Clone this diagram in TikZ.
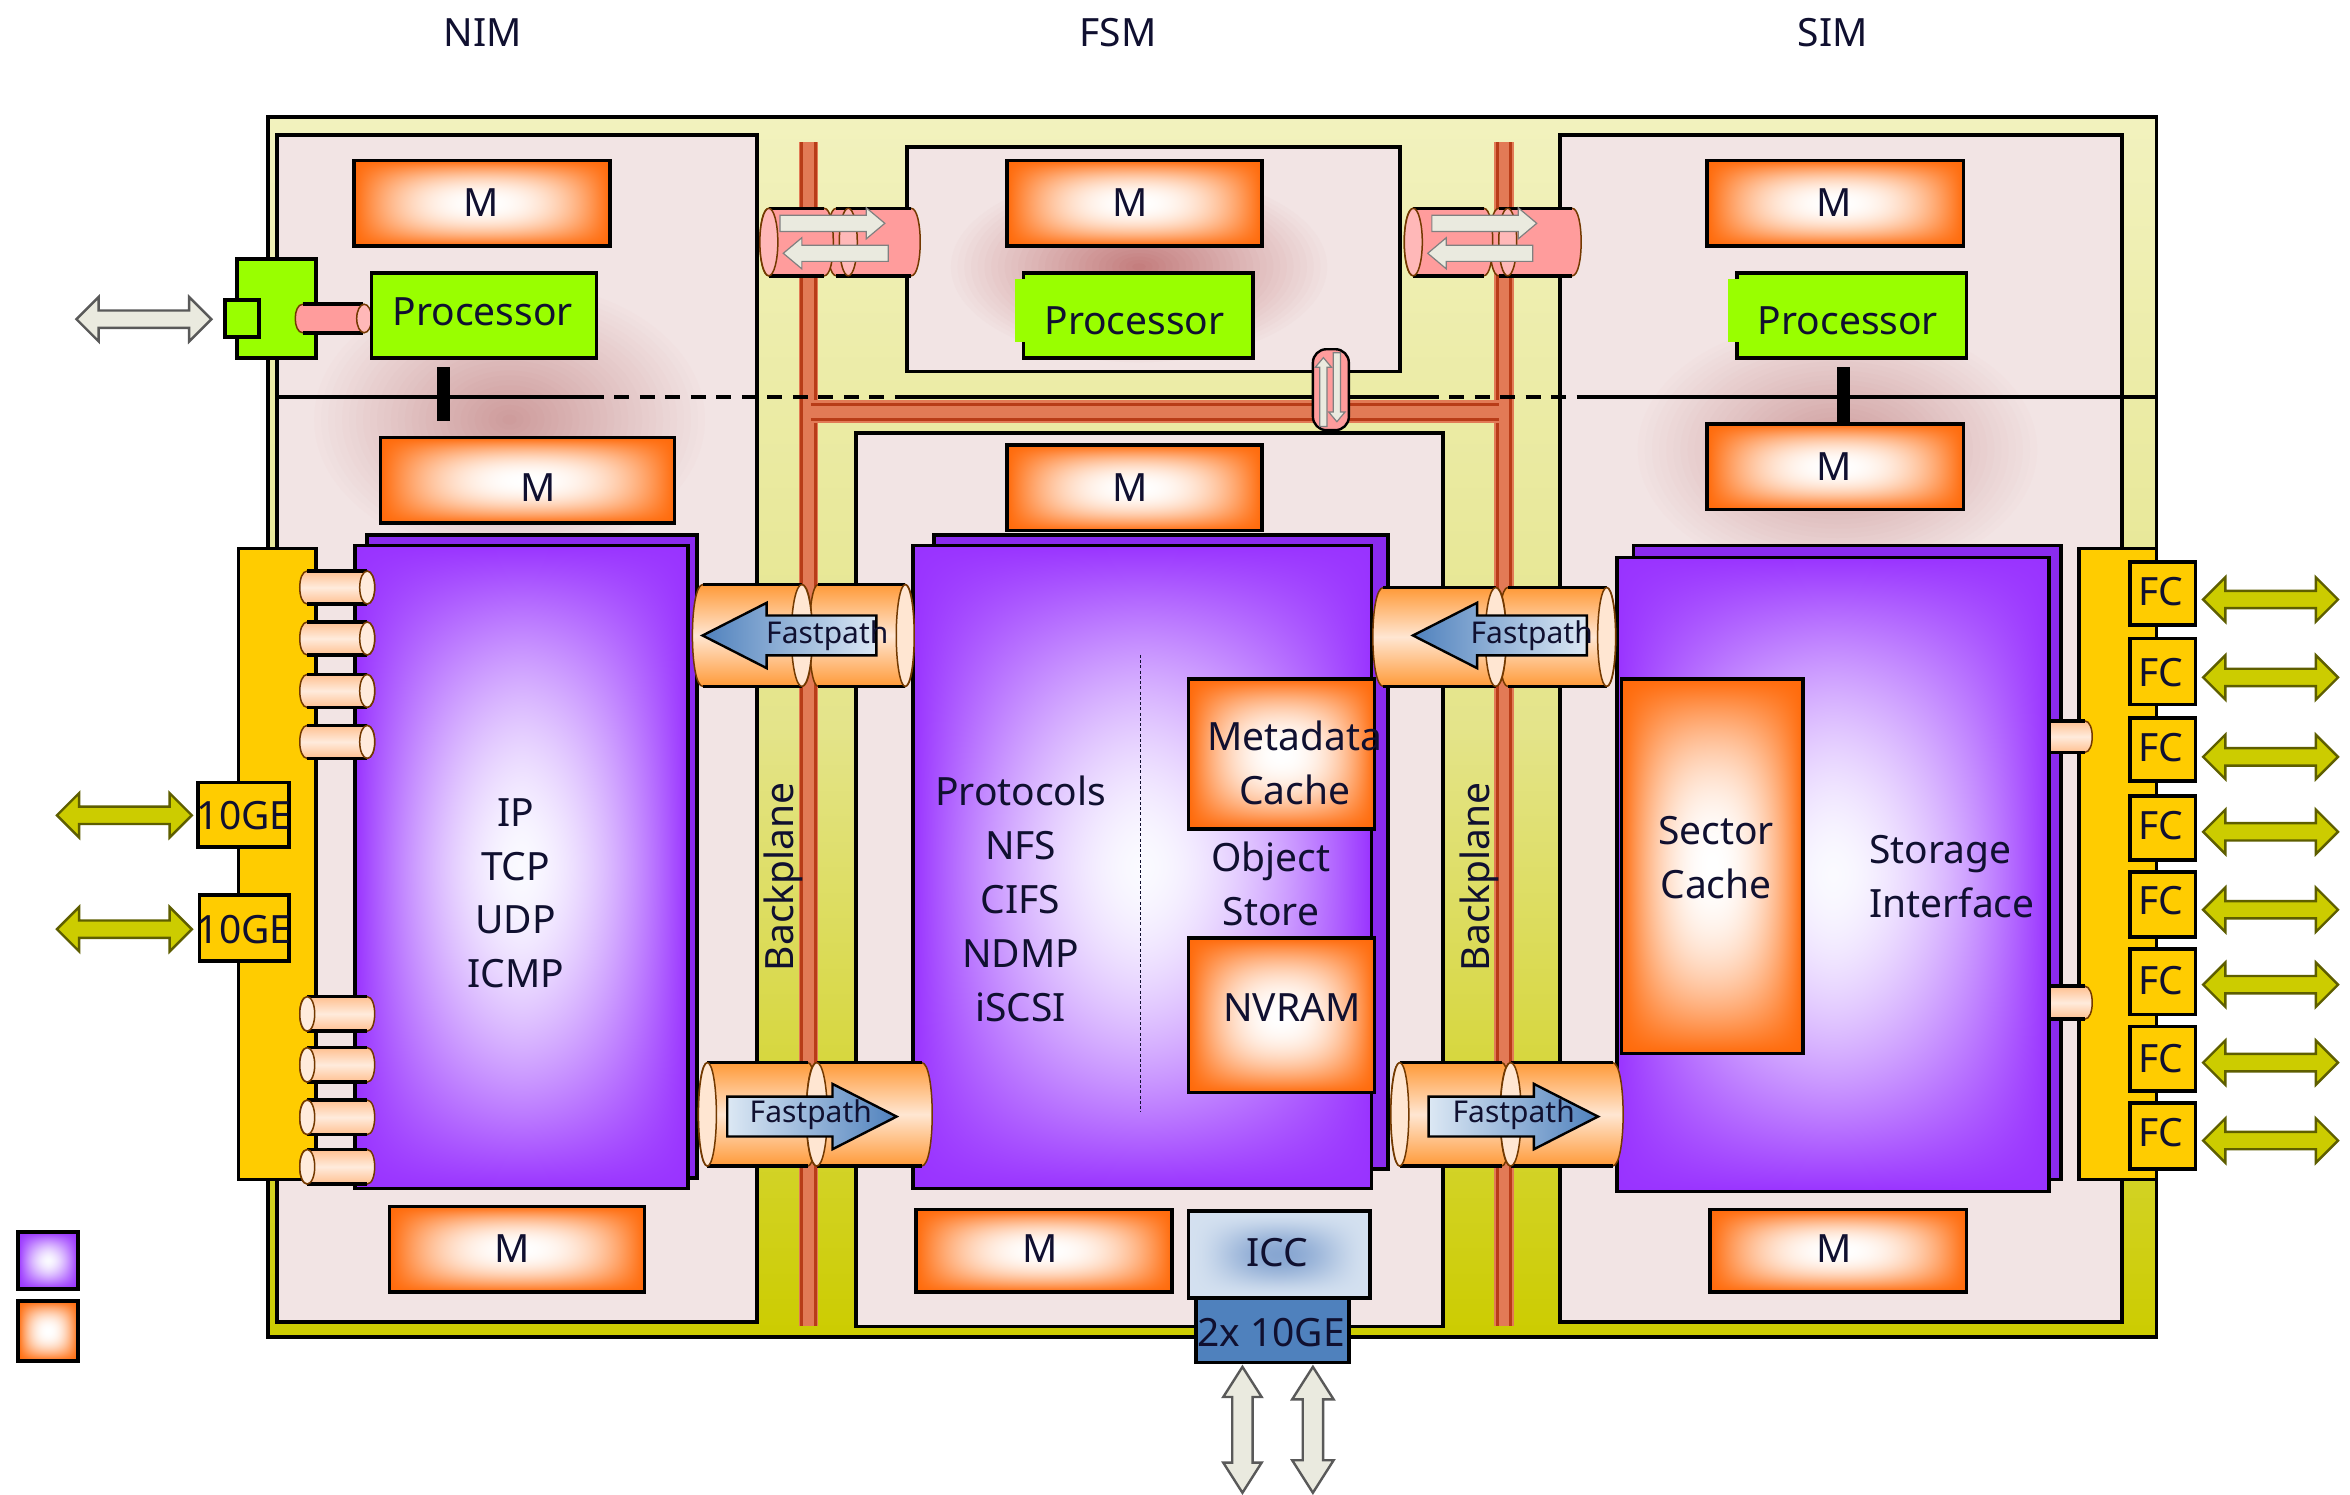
\documentclass[tikz,border=0pt]{standalone}
\usepackage{fontspec}
\setmainfont{Noto Sans}
\usetikzlibrary{calc,shapes.arrows,shapes.geometric}
\definecolor{cboard}{HTML}{F2E4E4}
\definecolor{cblob}{HTML}{CE9C9C}
\definecolor{cblobb}{HTML}{C47E7E}
\definecolor{cpurpleb}{HTML}{8A2BEE}
\definecolor{cgreen}{HTML}{99FF00}
\definecolor{cyellow}{HTML}{FFCC00}
\definecolor{colive}{HTML}{CCCC00}
\definecolor{cpale}{HTML}{F2F2BE}
\definecolor{cmidy}{HTML}{E4E48A}
\definecolor{ccream}{HTML}{EAEADF}
\definecolor{cfp}{HTML}{FF9A38}
\definecolor{cfpi}{HTML}{FFE6D2}
\definecolor{cpeach}{HTML}{FFC090}
\definecolor{cpeachi}{HTML}{FFEBDC}
\definecolor{cpink}{HTML}{FF9C9C}
\definecolor{cpinki}{HTML}{FFB8B8}
\definecolor{cblue}{HTML}{4F81BD}
\definecolor{cbluep}{HTML}{DCE8F4}
\definecolor{crail}{HTML}{B83C18}
\definecolor{crailp}{HTML}{E27A56}
\definecolor{ctext}{HTML}{101030}
\definecolor{colived}{HTML}{5E5E00}
\pgfdeclarefunctionalshading{orangepad}{\pgfpointorigin}{\pgfpoint{100bp}{100bp}}{}{
  50 sub 25 div abs 2.2 exp neg 1 add exch 50 sub 25 div abs 2.2 exp neg 1 add mul
  1 exch dup 0.584 mul 0.416 add exch 0.96 mul 0.04 add
}
\pgfdeclarefunctionalshading{purplepad}{\pgfpointorigin}{\pgfpoint{100bp}{100bp}}{}{
  50 sub 25 div abs 1.7 exp neg 1 add exch 50 sub 25 div abs 1.7 exp neg 1 add mul
  dup 0.38 mul 0.6 add exch 0.78 mul 0.2 add 1
}
\pgfdeclarefunctionalshading{iccpad}{\pgfpointorigin}{\pgfpoint{100bp}{100bp}}{}{
  50 sub 25 div abs 2 exp neg 1 add exch 50 sub 25 div abs 2 exp neg 1 add mul
  dup mul dup 0.3 mul neg 0.83 add exch dup 0.23 mul neg 0.88 add exch 0.12 mul neg 0.94 add
}
\tikzset{
  x=1pt,y=-1pt,
  edge/.style={draw=black,line width=2.4pt},
  boardbox/.style={edge,fill=cboard},
  membox/.style={edge,shading=orangepad},
  purplebox/.style={edge,shading=purplepad},
  purpleback/.style={edge,fill=cpurpleb},
  procbox/.style={edge,fill=cgreen},
  yellowbox/.style={edge,fill=cyellow},
  iccbox/.style={edge,shading=iccpad},
  lbl/.style={text=ctext,align=center,inner sep=0pt,font=\fontsize{26}{36}\selectfont},
  fplbl/.style={text=ctext,inner sep=0pt,font=\fontsize{20}{22}\selectfont},
  dblolive/.style={double arrow,draw=colived,line width=1.6pt,fill=colive,inner sep=5pt,
    minimum height=90pt,double arrow head extend=9pt},
  dblcream/.style={double arrow,draw=gray!70!black,line width=1.6pt,fill=ccream,inner sep=5pt,
    minimum height=90pt,double arrow head extend=9pt},
  fastarrow/.style={single arrow,draw=black,line width=1.6pt,inner sep=12.5pt,
    single arrow head extend=8.5pt,single arrow tip angle=54,minimum height=116pt},
  smallarrow/.style={single arrow,draw=gray,line width=.8pt,fill=ccream,inner sep=5pt,
    single arrow head extend=5pt,minimum height=70pt,single arrow tip angle=80},
  bluelr/.style={left color=cbluep,right color=cblue},
  bluerl/.style={left color=cblue,right color=cbluep},
  conbar/.style={draw=black,line width=9pt},
  fpcyl/.style={top color=cfp,bottom color=cfp,middle color=cfpi},
  pkcyl/.style={fill=cpink},
  pecyl/.style={top color=cpeach,bottom color=cpeach,middle color=cpeachi},
}
% style, name, x1, y1, x2, y2
\newcommand\blk[6]{%
  \pgfmathsetmacro\cx{(#3+#5)/2}\pgfmathsetmacro\cy{(#4+#6)/2}%
  \pgfmathsetmacro\bw{#5-#3}\pgfmathsetmacro\bh{#6-#4}%
  \node[#1,minimum width=\bw pt,minimum height=\bh pt,inner sep=0pt,outer sep=0pt] (#2) at (\cx,\cy) {};}
% style, x1, x2, y1, y2, e
\newcommand\cylbody[6]{%
  \pgfmathsetmacro\pa{#2+#6}\pgfmathsetmacro\pb{#3-#6}%
  \pgfmathsetmacro\pc{#2-#6/3}\pgfmathsetmacro\pd{#3+#6/3}%
  \path[#1,draw=black!55!orange,line width=1pt] (\pa,#4) -- (\pb,#4) .. controls (\pd,#4) and (\pd,#5) .. (\pb,#5) -- (\pa,#5)
    .. controls (\pc,#5) and (\pc,#4) .. (\pa,#4) -- cycle;
  \draw[black,line width=2.4pt] (\pa,#4) -- (\pb,#4) (\pa,#5) -- (\pb,#5);}
% style, x1, x2, y1, y2, e, end-x, end colour
\newcommand\cyl[8]{%
  \cylbody{#1}{#2}{#3}{#4}{#5}{#6}%
  \pgfmathsetmacro\ry{(#5-#4)/2}\pgfmathsetmacro\my{(#4+#5)/2}%
  \draw[draw=black!55!orange,line width=1pt,fill=#8] (#7,\my) ellipse [x radius=#6,y radius=\ry];}
% cx, cy, rx, ry, colour
\newcommand\softblob[5]{%
  \foreach \k in {1,...,28}{%
    \pgfmathsetmacro\gf{1-\k/29}\pgfmathsetmacro\gp{\k*100/28}%
    \fill[#5!\gp!cboard] (#1,#2) ellipse [x radius={#3*\gf},y radius={#4*\gf}];}}
\begin{document}
\begin{tikzpicture}
\useasboundingbox[fill=white] (0,0) rectangle (1568,997);
% chassis
\node[lbl] (tNIM) at (322,22) {NIM};
\node[lbl] (tFSM) at (746,22) {FSM};
\node[lbl] (tSIM) at (1223,22) {SIM};
\path[edge,top color=cpale,bottom color=colive,middle color=cmidy] (179,78) rectangle (1439,892);
\blk{boardbox}{nim}{185}{90}{505}{882}
\blk{boardbox}{fsmu}{605}{98}{934}{248}
\blk{boardbox}{fsml}{571}{289}{963}{885}
\blk{boardbox}{sim}{1041}{90}{1416}{882}
% soft tints on the boards
\softblob{340}{280}{135}{95}{cblob}
\softblob{760}{178}{130}{66}{cblobb}
\softblob{1226}{300}{138}{90}{cblob}
% backplane
\fill[crailp] (533,95) rectangle (546,885);
\draw[crail,line width=2.2pt] (535,95) -- (535,885) (544,95) -- (544,885);
\fill[crailp] (997,95) rectangle (1010,885);
\draw[crail,line width=2.2pt] (999,95) -- (999,885) (1008,95) -- (1008,885);
\fill[crailp] (541,267) rectangle (1000,282);
\draw[crail,line width=2.2pt] (541,270) -- (1000,270) (541,280) -- (1000,280);
\node[lbl,rotate=90] (bp1) at (523,585) {Backplane};
\node[lbl,rotate=90] (bp2) at (987,585) {Backplane};
% midplane line
\coordinate (la) at (185,265); \coordinate (lb) at (393,265);
\coordinate (lc) at (600,265); \coordinate (ld) at (950,265);
\coordinate (le) at (1052,265); \coordinate (lf) at (1439,265);
\draw[black,line width=2.4pt] (la) -- (lb) (lc) -- (ld) (le) -- (lf);
\draw[black,line width=2.4pt,dash pattern=on 10pt off 7pt] (lb) -- (lc) (ld) -- (le);
% compute blocks
\blk{purpleback}{ipb}{245}{357}{465}{786}
\blk{purplebox}{ip}{237}{364}{459}{793}
\blk{purpleback}{fsb}{623}{357}{926}{780}
\blk{purplebox}{fs}{609}{364}{915}{793}
\draw[ctext,line width=1pt,dash pattern=on 2pt off 1.5pt] (761,437) -- (761,742);
% side bars and ports
\blk{yellowbox}{barl}{159}{366}{211}{787}
\blk{yellowbox}{barr}{1387}{366}{1439}{787}
\blk{purpleback}{sib}{1090}{364}{1375}{787}
\cylbody{pecyl}{1360}{1396}{481}{502}{5}
\cylbody{pecyl}{1360}{1396}{658}{680}{5}
\blk{purplebox}{si}{1079}{372}{1367}{795}
\cyl{pecyl}{200}{250}{381}{403}{5}{245}{cpeachi}
\cyl{pecyl}{200}{250}{415}{437}{5}{245}{cpeachi}
\cyl{pecyl}{200}{250}{450}{472}{5}{245}{cpeachi}
\cyl{pecyl}{200}{250}{484}{506}{5}{245}{cpeachi}
\cyl{pecyl}{200}{250}{665}{688}{5}{205}{cpeachi}
\cyl{pecyl}{200}{250}{699}{722}{5}{205}{cpeachi}
\cyl{pecyl}{200}{250}{734}{757}{5}{205}{cpeachi}
\cyl{pecyl}{200}{250}{767}{790}{5}{205}{cpeachi}
% fastpath links
\cyl{fpcyl}{540}{610}{390}{458}{6}{604}{cfpi}
\cyl{fpcyl}{462}{542}{390}{458}{7}{535}{cfpi}
\cyl{fpcyl}{466}{545}{709}{778}{6}{472}{cfpi}
\cyl{fpcyl}{538}{622}{709}{778}{7}{545}{cfpi}
\cyl{fpcyl}{1000}{1078}{392}{458}{6}{1072}{cfpi}
\cyl{fpcyl}{916}{1005}{392}{458}{7}{998}{cfpi}
\cyl{fpcyl}{928}{1008}{709}{778}{6}{934}{cfpi}
\cyl{fpcyl}{1001}{1083}{709}{778}{7}{1008}{cfpi}
\node[fastarrow,bluerl,shape border rotate=180,anchor=tip] (fa1) at (467,424) {};
\node[fastarrow,bluelr,anchor=tip,minimum height=113pt] (fa2) at (600,745) {};
\node[fastarrow,bluerl,shape border rotate=180,anchor=tip] (fa3) at (941,424) {};
\node[fastarrow,bluelr,anchor=tip,minimum height=113pt] (fa4) at (1068,745) {};
\node[fplbl] (ft1) at (552,424) {Fastpath};
\node[fplbl] (ft2) at (541,744) {Fastpath};
\node[fplbl] (ft3) at (1022,424) {Fastpath};
\node[fplbl] (ft4) at (1010,744) {Fastpath};
% control links
\cyl{pkcyl}{552}{614}{139}{184}{6}{566}{cpinki}
\cyl{pkcyl}{507}{556}{139}{184}{6}{513}{cpinki}
\cyl{pkcyl}{994}{1055}{139}{184}{6}{1006}{cpinki}
\cyl{pkcyl}{937}{996}{139}{184}{6}{943}{cpinki}
\node[smallarrow,anchor=tip] (ca1) at (591,149) {};
\node[smallarrow,shape border rotate=180,anchor=tip] (ca2) at (522,169) {};
\node[smallarrow,anchor=tip] (ca3) at (1026,149) {};
\node[smallarrow,shape border rotate=180,anchor=tip] (ca4) at (952,169) {};
\draw[draw=black,line width=1.6pt,pkcyl,rounded corners=9pt] (876,233) rectangle (900,287);
\node[smallarrow,rotate=90,anchor=tip,minimum height=46pt,inner sep=2pt,single arrow head extend=3pt] (cv1) at (883,238) {};
\node[smallarrow,rotate=-90,anchor=tip,minimum height=46pt,inner sep=2pt,single arrow head extend=3pt] (cv2) at (892,282) {};
% green management port
\blk{procbox}{mg}{158}{173}{211}{239}
\blk{procbox}{mgp}{150}{200}{173}{225}
\cyl{pkcyl}{197}{247}{203}{222}{5}{243}{cpinki}
% memories
\blk{membox}{m1}{236}{107}{407}{164}
\blk{membox}{m2}{254}{292}{450}{349}
\blk{membox}{m3}{260}{805}{430}{862}
\blk{membox}{m4}{672}{107}{842}{164}
\blk{membox}{m5}{672}{297}{842}{354}
\blk{membox}{m6}{611}{807}{782}{862}
\blk{membox}{m7}{1139}{107}{1310}{164}
\blk{membox}{m8}{1139}{283}{1310}{340}
\blk{membox}{m9}{1141}{807}{1312}{862}
\node[lbl] (mt1) at (321,135) {M};
\node[lbl] (mt2) at (359,325) {M};
\node[lbl] (mt3) at (342,833) {M};
\node[lbl] (mt4) at (754,135) {M};
\node[lbl] (mt5) at (754,325) {M};
\node[lbl] (mt6) at (694,833) {M};
\node[lbl] (mt7) at (1224,135) {M};
\node[lbl] (mt8) at (1224,311) {M};
\node[lbl] (mt9) at (1224,833) {M};
% processors
\blk{procbox}{p1}{248}{182}{398}{239}
\blk{procbox}{p2}{683}{182}{836}{239}
\blk{procbox}{p3}{1159}{182}{1312}{239}
\fill[cgreen] (677,186) rectangle (690,228);
\fill[cgreen] (1153,186) rectangle (1166,228);
\node[lbl] (pt1) at (322,208) {Processor};
\node[lbl] (pt2) at (757,214) {Processor};
\node[lbl] (pt3) at (1233,214) {Processor};
\coordinate (b1a) at (296,245); \coordinate (b1b) at (296,281);
\coordinate (b2a) at (1230,245); \coordinate (b2b) at (1230,282);
\draw[conbar] (b1a) -- (b1b);
\draw[conbar] (b2a) -- (b2b);
% caches
\blk{membox}{meta}{793}{453}{917}{553}
\blk{membox}{nv}{793}{626}{917}{729}
\blk{membox}{sect}{1082}{453}{1203}{703}
\blk{iccbox}{icc}{793}{808}{914}{866}
\blk{edge,fill=cblue}{tenge}{798}{866}{900}{909}
\node[lbl] (tmeta) at (864,509) {Metadata\\Cache};
\node[lbl] (tnv) at (862,672) {NVRAM};
\node[lbl] (tsect) at (1145,572) {Sector\\Cache};
\node[lbl] (ticc) at (852,836) {ICC};
\node[lbl] (tten) at (848,889) {2x 10GE};
\node[lbl] (tip) at (344,596) {IP\\TCP\\UDP\\ICMP};
\node[lbl] (tprot) at (681,600) {Protocols\\NFS\\CIFS\\NDMP\\iSCSI};
\node[lbl] (tobj) at (848,590) {Object\\Store};
\node[lbl,align=left,anchor=west] (tsto) at (1247,585) {Storage\\Interface};
% 10GE and FC ports
\blk{yellowbox}{ga}{132}{522}{193}{565}
\blk{yellowbox}{gb}{133}{597}{193}{641}
\node[lbl] (gta) at (163,544) {10GE};
\node[lbl] (gtb) at (163,620) {10GE};
\node[dblolive] (gaa) at (83,544) {};
\node[dblolive] (gba) at (83,620) {};
\node[dblcream] (mga) at (96,213) {};
\foreach \n/\ya/\yb/\yt/\ar in {1/375/417/395/400,2/426/470/449/452,3/479/521/499/505,4/531/574/551/555,5/582/625/601/607,6/633/677/654/657,7/685/728/706/709,8/736/780/756/761}{
  \blk{yellowbox}{fc\n}{1421}{\ya}{1465}{\yb}
  \node[lbl] (fct\n) at (1442,\yt) {FC};
  \node[dblolive] (fca\n) at (1515,\ar) {};
}
\node[dblcream,rotate=90,minimum height=84pt,inner sep=6pt,double arrow head extend=6pt,double arrow tip angle=65] (va) at (829,954) {};
\node[dblcream,rotate=90,minimum height=84pt,inner sep=6pt,double arrow head extend=7pt,double arrow tip angle=65] (vb) at (876,954) {};
% legend
\blk{edge,shading=purplepad}{lg1}{12}{822}{52}{860}
\blk{edge,shading=orangepad}{lg2}{12}{868}{52}{908}
\end{tikzpicture}
\end{document}
